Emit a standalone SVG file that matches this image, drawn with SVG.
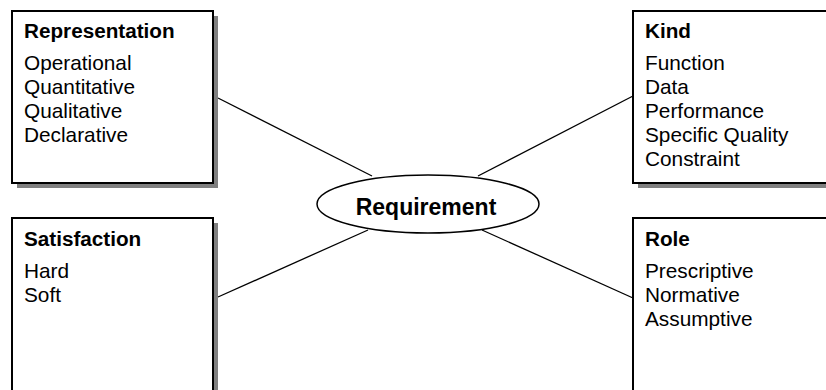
<svg xmlns="http://www.w3.org/2000/svg" width="826" height="390" viewBox="0 0 826 390">
<style>
.shadow{fill:#808080;stroke:none}
.box{fill:#fff;stroke:#000;stroke-width:2}
.title{font-family:"Liberation Sans",Arial,sans-serif;font-weight:bold;font-size:20.7px;fill:#000}
.item{font-family:"Liberation Sans",Arial,sans-serif;font-size:20.8px;fill:#000}
.conn{stroke:#000;stroke-width:1.3;fill:none}
</style>
<rect width="826" height="390" fill="#fff"/>
<g id="connectors">
<line class="conn" x1="218" y1="98" x2="372" y2="176"/>
<line class="conn" x1="633" y1="96" x2="478" y2="176"/>
<line class="conn" x1="218" y1="297" x2="368" y2="230"/>
<line class="conn" x1="633" y1="298" x2="482" y2="230"/>
</g>
<g id="representation">
<rect class="shadow" x="17" y="16" width="201" height="172"/>
<rect class="box" x="12" y="11" width="201" height="172"/>
<text class="title" x="24" y="38">Representation</text>
<text class="item" x="24" y="70">Operational</text>
<text class="item" x="24" y="94">Quantitative</text>
<text class="item" x="24" y="118">Qualitative</text>
<text class="item" x="24" y="142">Declarative</text>
</g>
<g id="kind">
<rect class="shadow" x="638" y="16" width="200" height="172"/>
<rect class="box" x="633" y="11" width="200" height="172"/>
<text class="title" x="645" y="38">Kind</text>
<text class="item" x="645" y="70">Function</text>
<text class="item" x="645" y="94">Data</text>
<text class="item" x="645" y="118">Performance</text>
<text class="item" x="645" y="142">Specific Quality</text>
<text class="item" x="645" y="166">Constraint</text>
</g>
<g id="satisfaction">
<rect class="shadow" x="17" y="223" width="201" height="180"/>
<rect class="box" x="12" y="218" width="201" height="180"/>
<text class="title" x="24" y="246">Satisfaction</text>
<text class="item" x="24" y="278">Hard</text>
<text class="item" x="24" y="302">Soft</text>
</g>
<g id="role">
<rect class="shadow" x="638" y="223" width="200" height="180"/>
<rect class="box" x="633" y="218" width="200" height="180"/>
<text class="title" x="645" y="246">Role</text>
<text class="item" x="645" y="278">Prescriptive</text>
<text class="item" x="645" y="302">Normative</text>
<text class="item" x="645" y="326">Assumptive</text>
</g>
<g id="requirement">
<ellipse cx="428" cy="204" rx="111" ry="29" fill="#fff" stroke="#000" stroke-width="1.5"/>
<text x="426" y="215" text-anchor="middle" font-family="Liberation Sans, Arial, sans-serif" font-weight="bold" font-size="23">Requirement</text>
</g>
</svg>
